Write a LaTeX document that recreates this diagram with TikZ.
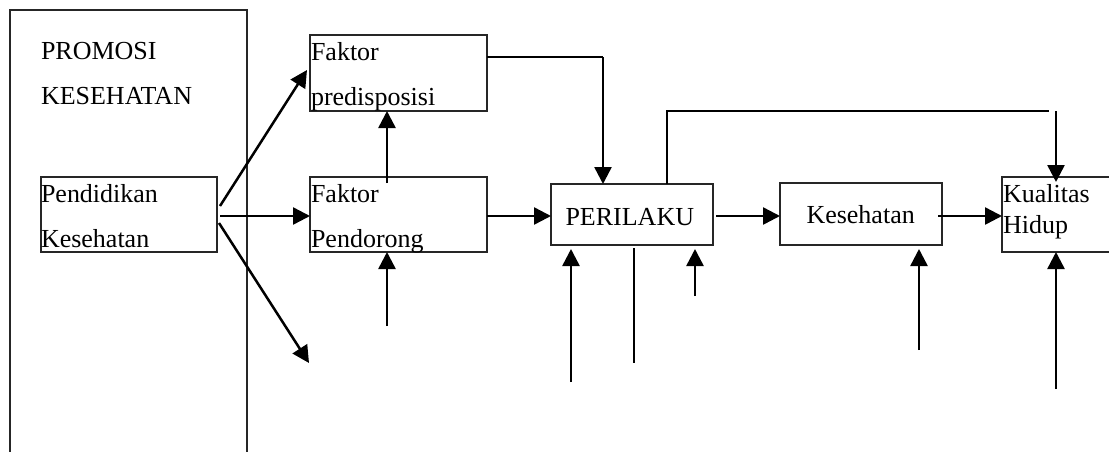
\documentclass[tikz,border=0pt]{standalone}
\usepackage{fontspec}
\setmainfont{Liberation Serif}
\usetikzlibrary{arrows.meta,calc}
\tikzset{
  box/.style={draw=black!85, line width=1.3pt, inner sep=0pt, outer sep=0pt, rectangle},
  lbl/.style={inner sep=0pt, outer sep=0pt, anchor=base west, font=\fontsize{26pt}{30pt}\selectfont},
  arr/.style={line width=2.5pt, -{Triangle[length=17pt,width=17pt]}},
  thinln/.style={line width=1.5pt},
  plainln/.style={line width=2.2pt}
}
\begin{document}
\begin{tikzpicture}[x=1pt,y=-1pt]
\useasboundingbox (0,0) rectangle (1109,451);
\clip (0,0) rectangle (1109,451);
\fill[white] (0,0) rectangle (1109,451);

% boxes
\node[box, minimum width=237pt, minimum height=460pt] (promo) at (128.5,240) {};
\node[box, minimum width=176pt, minimum height=75pt] (pend) at (129,214.5) {};
\node[box, minimum width=177pt, minimum height=76pt] (pred) at (398.5,73) {};
\node[box, minimum width=177pt, minimum height=75pt] (dor) at (398.5,214.5) {};
\node[box, minimum width=162pt, minimum height=61pt] (peri) at (632,214.5) {};
\node[box, minimum width=162pt, minimum height=62pt] (kes) at (861,214) {};
\node[box, minimum width=118pt, minimum height=75pt] (kual) at (1061,214.5) {};

% texts
\node[lbl] (t1) at (41,59) {PROMOSI};
\node[lbl] (t2) at (41,104) {KESEHATAN};
\node[lbl] (t3) at (41,202) {Pendidikan};
\node[lbl] (t4) at (41,247) {Kesehatan};
\node[lbl] (t5) at (311,60) {Faktor};
\node[lbl] (t6) at (311,105) {predisposisi};
\node[lbl] (t7) at (311,202) {Faktor};
\node[lbl] (t8) at (311,247) {Pendorong};
\node[lbl] (t9) at (565.5,225) {PERILAKU};
\node[lbl] (t10) at (806.5,223) {Kesehatan};
\node[lbl] (t11) at (1003,202) {Kualitas};
\node[lbl] (t12) at (1003,233) {Hidup};

% free ends and corners
\coordinate (c1) at (309,363);
\coordinate (c2) at (387,326);
\coordinate (k1) at (603,57);
\coordinate (k2) at (667,111);
\coordinate (k3) at (1049,111);
\coordinate (k4) at (1056,111);
\coordinate (c3) at (571,382);
\coordinate (c4) at (634,363);
\coordinate (c5) at (695,296);
\coordinate (c6) at (919,350);
\coordinate (c7) at (1056,389);

% connectors
\draw[arr] ([xshift=3pt,yshift=8.5pt]pend.east) -- ([xshift=-3pt,yshift=3pt]pred.west);
\draw[arr] ([xshift=3pt,yshift=-1.5pt]pend.east) -- ([yshift=-1.5pt]dor.west);
\draw[arr] ([xshift=2pt,yshift=-8.5pt]pend.east) -- (c1);
\draw[arr] ([xshift=-11.5pt,yshift=-6pt]dor.north) -- ([xshift=-11.5pt]pred.south);
\draw[arr] (c2) -- ([xshift=-11.5pt]dor.south);
\draw[thinln] ([yshift=16pt]pred.east) -- (k1);
\draw[arr] (k1) -- ([xshift=-29pt]peri.north);
\draw[arr] ([yshift=-1.5pt]dor.east) -- ([yshift=-1.5pt]peri.west);
\draw[arr] ([xshift=3pt,yshift=-1.5pt]peri.east) -- ([yshift=-2pt]kes.west);
\draw[arr] ([xshift=-4pt,yshift=-2pt]kes.east) -- ([yshift=-1.5pt]kual.west);
\draw[thinln] ([xshift=35pt]peri.north) -- (k2) -- (k3);
\draw[arr] (k4) -- ([xshift=-5pt,yshift=-5pt]kual.north);
\draw[arr] (c3) -- ([xshift=-61pt,yshift=-4pt]peri.south);
\draw[plainln] ([xshift=2pt,yshift=-3pt]peri.south) -- (c4);
\draw[arr] (c5) -- ([xshift=63pt,yshift=-4pt]peri.south);
\draw[arr] (c6) -- ([xshift=58pt,yshift=-4pt]kes.south);
\draw[arr] (c7) -- ([xshift=-5pt]kual.south);
\end{tikzpicture}
\end{document}
